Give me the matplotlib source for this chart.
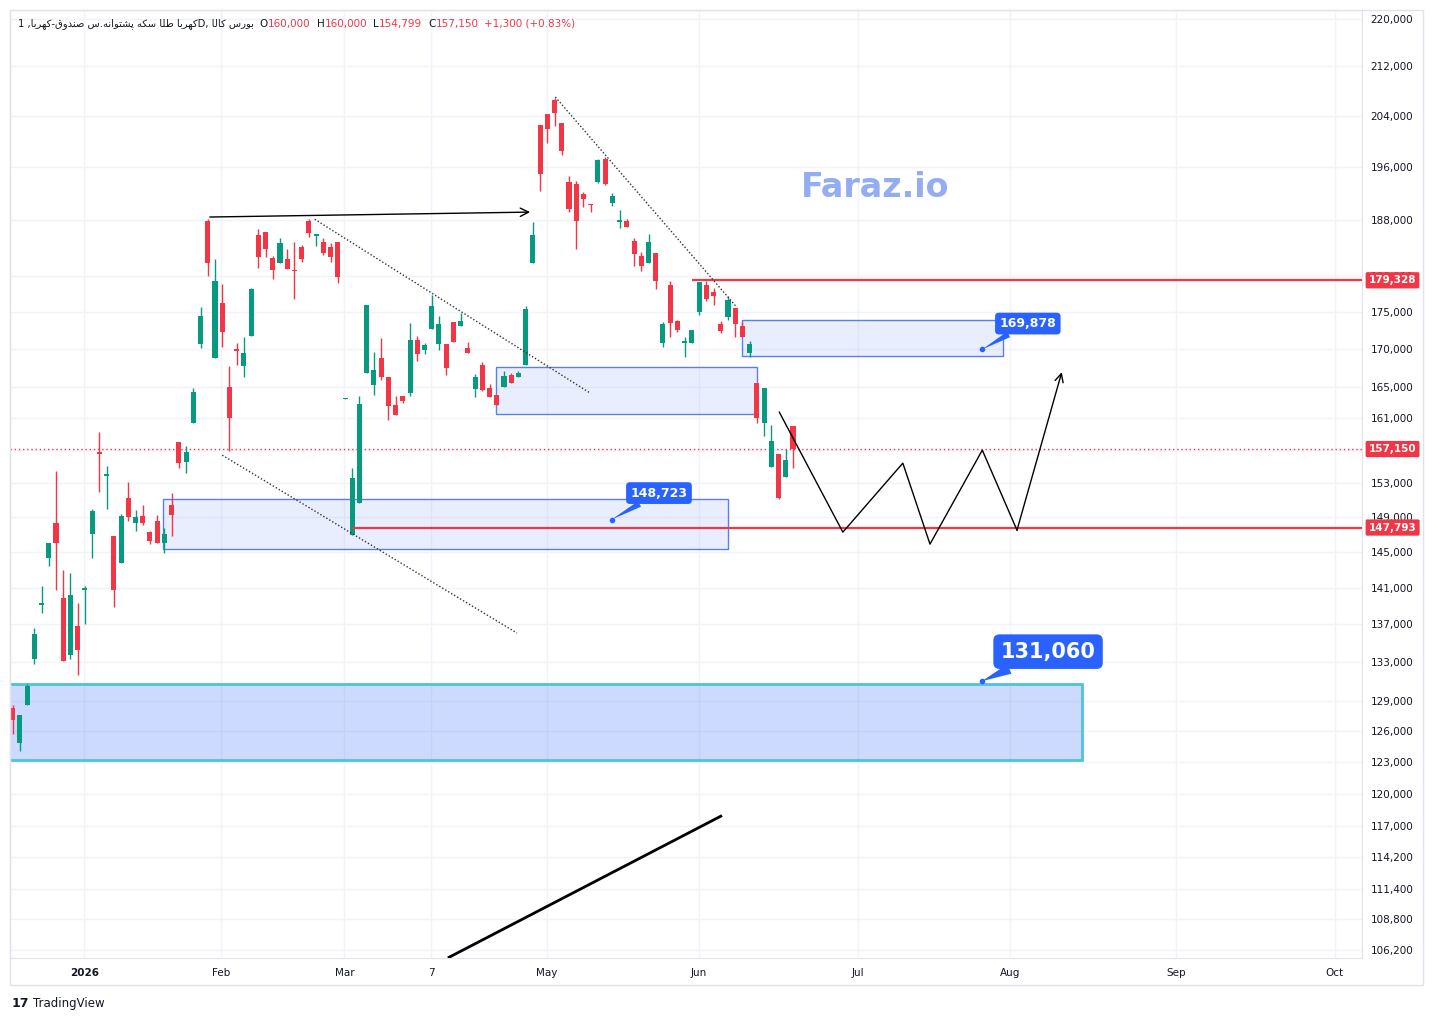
import numpy as np
import matplotlib
matplotlib.use("Agg")
import matplotlib.pyplot as plt
import matplotlib.transforms as mtransforms
from matplotlib.patches import Rectangle
from matplotlib.ticker import FuncFormatter, NullLocator

# daily candles, left to right
opens = [128300, 124900, 128600, 133300, 139100, 144300, 148300, 139900, 133800, 136800,
         140800, 147100, 156800, 153900, 146800, 143700, 151200, 148300, 149100, 147300,
         148600, 146000, 150400, 158000, 155600, 160400, 170600, 187800, 168700, 176200,
         165000, 169900, 167700, 171700, 185800, 186200, 182500, 181800, 182300, 180800,
         184100, 187800, 185600, 184800, 184100, 184800, 163400, 146900, 150600, 166800,
         165200, 168700, 166300, 162700, 163800, 164200, 171100, 169800, 172600, 170600,
         170600, 173600, 173000, 170100, 164700, 167800, 164800, 163900, 165000, 166500,
         166300, 167800, 181800, 202500, 204200, 206500, 202800, 193700, 193400, 191900,
         190400, 193700, 197200, 190500, 187700, 187800, 184900, 182800, 181800, 183200,
         170700, 178700, 173700, 170700, 170700, 174900, 178700, 177700, 173300, 174200,
         175500, 173000, 169400, 165500, 160400, 154900, 156500, 153700, 160000]
highs = [128600, 127600, 130800, 136600, 141200, 146000, 154500, 143000, 142600, 139300,
         141200, 149900, 159300, 155100, 146800, 149400, 153100, 149800, 150400, 147400,
         149200, 147700, 151800, 158000, 157500, 164800, 175600, 188100, 182300, 178800,
         167700, 170700, 171500, 178200, 186700, 186200, 182800, 185400, 183800, 184800,
         184300, 188100, 185900, 185400, 184600, 184800, 163500, 154800, 163800, 175900,
         169500, 171400, 166300, 163800, 163800, 173400, 171700, 170700, 177300, 174400,
         170600, 173600, 174800, 170900, 166600, 168200, 165300, 163900, 167000, 166800,
         167000, 175700, 187700, 202500, 204200, 206800, 202800, 194600, 193800, 192200,
         190400, 197200, 197500, 192000, 189500, 188100, 185400, 183300, 185900, 183200,
         173600, 179200, 173800, 171500, 172500, 179100, 179200, 178200, 173700, 177100,
         175500, 173600, 171000, 165500, 164800, 160100, 156500, 157100, 160000]
lows = [125800, 124100, 128600, 132800, 138200, 143400, 140800, 133100, 133300, 131700,
        137100, 144300, 151900, 149900, 138900, 143700, 148500, 147400, 148100, 145900,
        146000, 144900, 146800, 154800, 154200, 160400, 170100, 179900, 168700, 170200,
        156900, 167800, 166300, 171700, 181100, 182600, 179500, 181800, 180900, 176700,
        181900, 185500, 184200, 182900, 181900, 178900, 163400, 146900, 150600, 166800,
        163900, 165900, 160800, 161400, 162900, 163800, 168300, 169300, 172600, 169800,
        166500, 170900, 173000, 169400, 163700, 164400, 163700, 162700, 165000, 165500,
        166300, 167800, 181800, 192300, 199700, 202300, 197800, 189200, 183800, 189900,
        189200, 193500, 193200, 190100, 186800, 187000, 181300, 180600, 181800, 178100,
        170200, 171500, 172200, 168900, 170700, 174500, 176400, 175900, 172100, 173800,
        171500, 171500, 168900, 160400, 158800, 154900, 151100, 153700, 154799]
closes = [127100, 127600, 130600, 136000, 139200, 146000, 146000, 133100, 140200, 134300,
          141000, 149700, 156600, 154100, 140700, 149100, 149000, 149000, 148300, 146200,
          146000, 147100, 149200, 155400, 156800, 164300, 174400, 181800, 179200, 172200,
          161000, 169700, 169400, 178100, 182600, 183800, 180800, 184600, 180900, 180600,
          182300, 186100, 185900, 183200, 182600, 179800, 163500, 153600, 162800, 175900,
          167200, 166300, 162500, 161400, 163200, 171100, 169300, 170500, 175700, 173300,
          167400, 170900, 173700, 169400, 166300, 164600, 163700, 162700, 166400, 165500,
          166800, 175300, 185800, 194900, 201900, 204400, 198400, 189600, 187800, 191100,
          190200, 197000, 193400, 191600, 187800, 187000, 183000, 181300, 184800, 179200,
          173300, 173400, 172500, 171000, 172500, 179100, 176700, 177100, 172300, 176600,
          173300, 171500, 170600, 161000, 164800, 158100, 151200, 155850, 157150]

price_ticks = [106200, 108800, 111400, 114200, 117000, 120000, 123000, 126000, 129000,
               133000, 137000, 141000, 145000, 149000, 153000, 157000, 161000, 165000,
               170000, 175000, 180000, 188000, 196000, 204000, 212000, 220000]
time_labels = ["2026", "Feb", "Mar", "7", "May", "Jun", "Jul", "Aug", "Sep", "Oct"]
time_pos = [9.9, 28.8, 45.9, 57.9, 73.9, 95.0, 117.0, 138.0, 161.0, 183.0]

last_price = 157150
res_level = 179328
sup_level = 147793

# boxes drawn on the chart: (x from, x to, low, high) in bar index / price
zones = [(20.8, 99.0, 145300, 151100),
         (66.9, 103.0, 161500, 167550),
         (100.9, 137.1, 169000, 173830)]
big_zone = (-0.5, 148.0, 123210, 130760)

callout_vals = [148723, 169878, 131060]
callout_x = [82.9, 134.15, 134.15]
callout_text_x = [89.45, 140.5, 143.3]
callout_text_y = [151830, 173360, 134120]
callout_size = [9, 9, 15]

# hand drawn lines
arrow_x = [26.9, 72.0]
arrow_y = [188420, 189160]
dot1_x, dot1_y = [41.8, 79.9], [188100, 164200]
dot2_x, dot2_y = [29.0, 69.8], [156400, 136080]
dot3_x, dot3_y = [75.1, 100.2], [206980, 175600]
path_x = [106.1, 114.9, 123.2, 126.96, 134.2, 139.0, 145.2]
path_y = [161760, 147260, 155430, 145890, 157020, 147490, 166900]
bottom_x, bottom_y = [60.4, 98.0], [105600, 117920]

GREEN = "#089981"
RED = "#f23645"
BLUE = "#2962ff"
DARK = "#131722"

# simple shaping for the persian title (matplotlib has no arabic shaping)
FORMS = {
    "ا": "\ufe8d\ufe8e", "د": "\ufea9\ufeaa", "ر": "\ufead\ufeae", "و": "\ufeed\ufeee",
    "ب": "\ufe8f\ufe90\ufe91\ufe92", "پ": "\ufb56\ufb57\ufb58\ufb59",
    "ت": "\ufe95\ufe96\ufe97\ufe98", "س": "\ufeb1\ufeb2\ufeb3\ufeb4",
    "ش": "\ufeb5\ufeb6\ufeb7\ufeb8", "ص": "\ufeb9\ufeba\ufebb\ufebc",
    "ط": "\ufec1\ufec2\ufec3\ufec4", "ق": "\ufed5\ufed6\ufed7\ufed8",
    "ک": "\ufb8e\ufb8f\ufb90\ufb91", "ل": "\ufedd\ufede\ufedf\ufee0",
    "ن": "\ufee5\ufee6\ufee7\ufee8", "ه": "\ufee9\ufeea\ufeeb\ufeec",
    "ی": "\ufbfc\ufbfd\ufbfe\ufbff",
}


def shape(text):
    out = []
    for i, ch in enumerate(text):
        f = FORMS.get(ch)
        if f is None:
            out.append(ch)
            continue
        prev = FORMS.get(text[i - 1]) if i > 0 else None
        nxt = text[i + 1] if i + 1 < len(text) else None
        jp = prev is not None and len(prev) == 4
        jn = nxt in FORMS and len(f) == 4
        out.append(f[3] if jp and jn else f[1] if jp else f[2] if jn else f[0])
    return "".join(reversed(out))


fig = plt.figure(figsize=(14.33, 10.21), dpi=100)
ax = fig.add_axes([10 / 1433, 1 - 958 / 1021, 1352 / 1433, 948 / 1021])
ax.set_yscale("log")
ax.set_xlim(-0.37, 186.75)
ax.set_ylim(105540, 221550)

o = np.array(opens)
h = np.array(highs)
l = np.array(lows)
c = np.array(closes)
x = np.arange(len(o))
colors = np.where(c >= o, GREEN, RED)
ax.vlines(x, l, h, colors=colors, lw=1, zorder=4)
body = np.maximum(np.abs(c - o), o * 0.0012)
ax.bar(x, body, bottom=np.minimum(o, c), width=0.7, color=colors, zorder=5)

# zones
for x0, x1, lo, hi in zones:
    ax.add_patch(Rectangle((x0, lo), x1 - x0, hi - lo, fc=BLUE, alpha=0.1, ec="none", zorder=2))
    ax.add_patch(Rectangle((x0, lo), x1 - x0, hi - lo, fill=False, ec="#5b7fe6", lw=1, zorder=3))
bx0, bx1, blo, bhi = big_zone
ax.add_patch(Rectangle((bx0, blo), bx1 - bx0, bhi - blo, fc=BLUE, alpha=0.23, ec="none", zorder=2))
ax.add_patch(Rectangle((bx0, blo), bx1 - bx0, bhi - blo, fill=False, ec="#4fc3d8", lw=2, zorder=3))

# levels
ax.axhline(last_price, color=RED, lw=1, ls=(0, (1, 2)), zorder=3)
ax.hlines(res_level, 94.05, 186.75, color=RED, lw=1.6, zorder=6)
ax.hlines(sup_level, 46.96, 186.75, color=RED, lw=1.6, zorder=6)

# drawings
ax.annotate("", xy=(arrow_x[1], arrow_y[1]), xytext=(arrow_x[0], arrow_y[0]),
            arrowprops=dict(arrowstyle="->,head_length=0.6,head_width=0.3", color="black", lw=1), zorder=6)
for xs, ys in [(dot1_x, dot1_y), (dot2_x, dot2_y), (dot3_x, dot3_y)]:
    ax.plot(xs, ys, color="#333333", lw=1, ls=(0, (1, 1.5)), zorder=6)
ax.plot(path_x[:-1], path_y[:-1], color="black", lw=1, zorder=6)
ax.annotate("", xy=(path_x[-1], path_y[-1]), xytext=(path_x[-2], path_y[-2]),
            arrowprops=dict(arrowstyle="->,head_length=0.6,head_width=0.3", color="black", lw=1,
                            shrinkA=0, shrinkB=0), zorder=6)
ax.plot(bottom_x, bottom_y, color="black", lw=2, zorder=6)

# callouts
for val, px, tx, ty, fs in zip(callout_vals, callout_x, callout_text_x, callout_text_y, callout_size):
    ax.annotate(f"{val:,}", xy=(px, val), xytext=(tx, ty), ha="center", va="center",
                color="white", fontsize=fs, fontweight="bold", zorder=8,
                bbox=dict(boxstyle="round,pad=0.35,rounding_size=0.3", fc=BLUE, ec="none"),
                arrowprops=dict(arrowstyle="wedge,tail_width=0.5", fc=BLUE, ec="none",
                                shrinkA=0, shrinkB=0))
    ax.plot(px, val, "o", ms=3, color=BLUE, zorder=9)

# watermark
ax.text(0.64, 0.813, "Faraz.io", transform=ax.transAxes, ha="center", va="center",
        fontsize=24, fontweight="bold", color="#93acf2", zorder=1)

# axes styling
ax.yaxis.tick_right()
ax.set_yticks(price_ticks)
ax.yaxis.set_minor_locator(NullLocator())
# 157,000 sits under the last price label
ax.yaxis.set_major_formatter(FuncFormatter(lambda v, _: "" if v == 157000 else f"{v:,.0f}"))
ax.set_xticks(time_pos)
ax.set_xticklabels(time_labels)
ax.get_xticklabels()[0].set_fontweight("bold")
ax.tick_params(axis="y", length=0, pad=6, labelsize=7.5, labelcolor=DARK)
ax.tick_params(axis="x", length=0, pad=7, labelsize=7.5, labelcolor=DARK)
ax.grid(color="#f0f3fa", lw=1, zorder=0)
ax.set_axisbelow(True)
for s in ax.spines.values():
    s.set_color("#e0e3eb")

# price labels on the axis
trans = mtransforms.blended_transform_factory(ax.transAxes, ax.transData)
for v in [res_level, last_price, sup_level]:
    ax.text(1.005, v, f"{v:,}", transform=trans, ha="left", va="center", color="white",
            fontsize=7.5, fontweight="bold", clip_on=False, zorder=10,
            bbox=dict(boxstyle="round,pad=0.3,rounding_size=0.15", fc=RED, ec="none"))

fig.patches.append(Rectangle((10 / 1433, 1 - 985 / 1021), 1413 / 1433, 975 / 1021,
                             transform=fig.transFigure, fill=False, ec="#e0e3eb", lw=1))

# header, pieces placed one after another
title = "1 ," + shape("کهربا طلا سکه پشتوانه.س صندوق-کهربا") + "D, " + shape("بورس کالا")
pieces = [(title, DARK, 7.2, 6), ("O", DARK, 7.5, 0), ("160,000", RED, 7.5, 6),
          ("H", DARK, 7.5, 0), ("160,000", RED, 7.5, 6), ("L", DARK, 7.5, 0),
          ("154,799", RED, 7.5, 6), ("C", DARK, 7.5, 0), ("157,150", RED, 7.5, 6),
          ("+1,300 (+0.83%)", RED, 7.5, 0)]
renderer = fig.canvas.get_renderer()
fy = 1 - 24 / 1021
xpos = 18
for t, col, fs, gap in pieces:
    txt = fig.text(xpos / 1433, fy, t, fontsize=fs, color=col, va="center")
    xpos += txt.get_window_extent(renderer=renderer).width + gap

fig.text(12 / 1433, 1 - 1003 / 1021, "17", fontsize=9, fontweight="heavy", color=DARK, va="center")
fig.text(33 / 1433, 1 - 1003 / 1021, "TradingView", fontsize=8.5, color=DARK, va="center")

fig.savefig("out.png", dpi=100, facecolor="white")
